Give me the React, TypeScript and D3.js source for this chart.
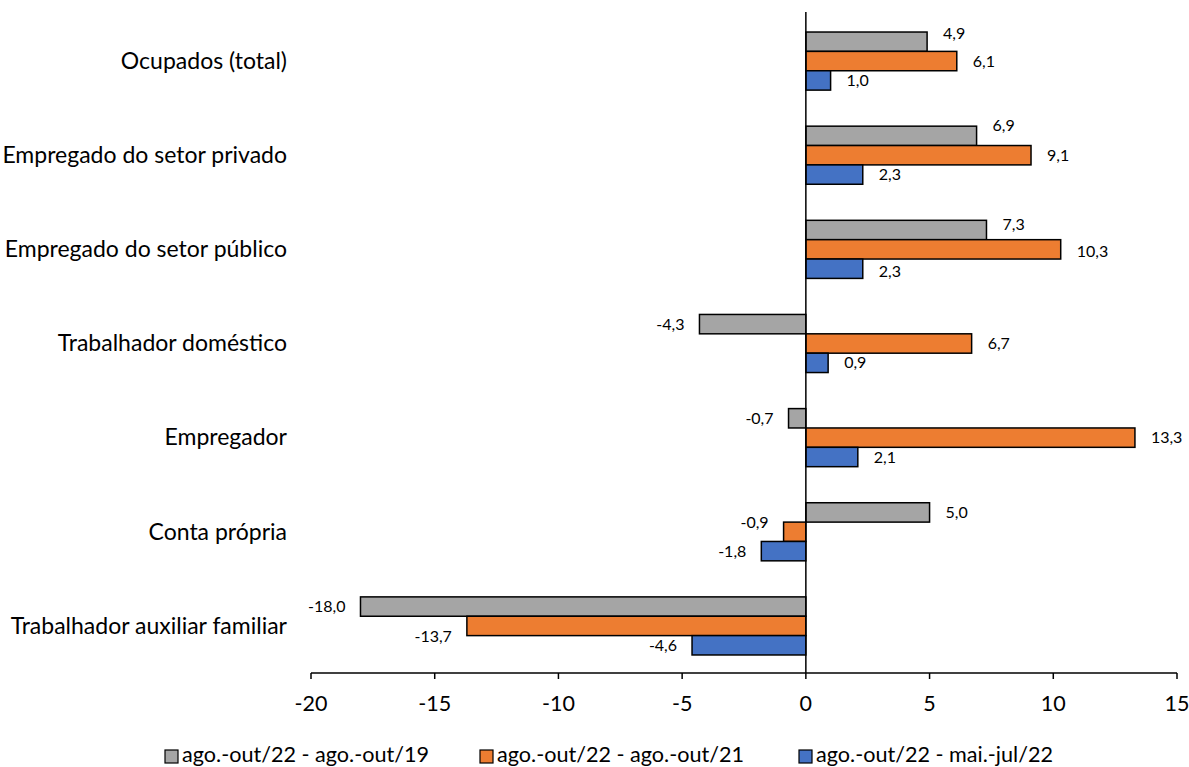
import React from "react";
import * as d3 from "d3";

// Categories of occupation (top to bottom)
const categories = [
  "Ocupados (total)",
  "Empregado do setor privado",
  "Empregado do setor público",
  "Trabalhador doméstico",
  "Empregador",
  "Conta própria",
  "Trabalhador auxiliar familiar",
];

const seriesNames = [
  "ago.-out/22 - ago.-out/19",
  "ago.-out/22 - ago.-out/21",
  "ago.-out/22 - mai.-jul/22",
];

// Variation (%) per category, one array per comparison period
const vsAgoOut19 = [4.9, 6.9, 7.3, -4.3, -0.7, 5.0, -18.0];
const vsAgoOut21 = [6.1, 9.1, 10.3, 6.7, 13.3, -0.9, -13.7];
const vsMaiJul22 = [1.0, 2.3, 2.3, 0.9, 2.1, -1.8, -4.6];

const xTicks = [-20, -15, -10, -5, 0, 5, 10, 15];

const seriesColors = ["#A5A5A5", "#ED7D31", "#4472C4"];

// Small vertical nudges for a few value labels so they don't collide
const labelNudge: Record<string, number> = {
  "0-0": -8,
  "1-0": -10,
  "2-0": -6,
  "2-1": 2,
  "2-2": 3,
  "5-1": -9,
  "6-1": 10,
};

const W = 1189;
const H = 767;
const font = "Lato, 'Open Sans', sans-serif";

const fmt = (v: number) => v.toFixed(1).replace(".", ",");

export default function App() {
  const series = [vsAgoOut19, vsAgoOut21, vsMaiJul22];

  const x = d3.scaleLinear().domain([-20, 15]).range([311, 1177]);
  const y = d3
    .scaleBand<string>()
    .domain(categories)
    .range([14, 673])
    .paddingInner(0.383)
    .paddingOuter(0.1915);
  const inner = d3
    .scaleBand<number>()
    .domain([0, 1, 2])
    .range([0, y.bandwidth()]);

  const axisY = 673;
  const legendX = [165, 480, 799];

  return (
    <svg
      width={W}
      height={H}
      style={{ position: "absolute", left: 0, top: 0, background: "#fff" }}
      fontFamily={font}
    >
      {/* category labels */}
      {categories.map((c) => (
        <text
          key={c}
          x={287}
          y={(y(c) ?? 0) + y.bandwidth() / 2 + 7.8}
          textAnchor="end"
          fontSize={23}
          fill="#000"
        >
          {c}
        </text>
      ))}

      {/* bars */}
      {categories.map((c, ci) =>
        series.map((s, si) => {
          const v = s[ci];
          const x0 = x(Math.min(0, v));
          const x1 = x(Math.max(0, v));
          return (
            <rect
              key={`${ci}-${si}`}
              x={x0}
              y={(y(c) ?? 0) + (inner(si) ?? 0)}
              width={x1 - x0}
              height={inner.bandwidth()}
              fill={seriesColors[si]}
              stroke="#000"
              strokeWidth={1.5}
            />
          );
        })
      )}

      {/* value labels */}
      {categories.map((c, ci) =>
        series.map((s, si) => {
          const v = s[ci];
          const cy =
            (y(c) ?? 0) +
            (inner(si) ?? 0) +
            inner.bandwidth() / 2 +
            (labelNudge[`${ci}-${si}`] ?? 0);
          return (
            <text
              key={`l-${ci}-${si}`}
              x={v >= 0 ? x(v) + 16 : x(v) - 15}
              y={cy + 5.6}
              textAnchor={v >= 0 ? "start" : "end"}
              fontSize={16}
              fill="#000"
            >
              {fmt(v)}
            </text>
          );
        })
      )}

      {/* zero line */}
      <line x1={x(0)} x2={x(0)} y1={12} y2={axisY} stroke="#000" strokeWidth={1.5} />

      {/* x axis */}
      <line x1={x(-20)} x2={x(15)} y1={axisY} y2={axisY} stroke="#000" strokeWidth={1.5} />
      {xTicks.map((t) => (
        <g key={t}>
          <line x1={x(t)} x2={x(t)} y1={axisY} y2={axisY + 6} stroke="#000" strokeWidth={1.5} />
          <text
            x={x(t)}
            y={axisY + 38}
            textAnchor="middle"
            fontSize={21.5}
            fill="#000"
          >
            {t}
          </text>
        </g>
      ))}

      {/* legend */}
      {seriesNames.map((n, i) => {
        const lx = legendX[i];
        return (
          <g key={n}>
            <rect x={lx} y={750} width={13} height={13} fill={seriesColors[i]} stroke="#000" strokeWidth={1.2} />
            <text x={lx + 17} y={762} fontSize={21.6} fill="#000">
              {n}
            </text>
          </g>
        );
      })}
    </svg>
  );
}
